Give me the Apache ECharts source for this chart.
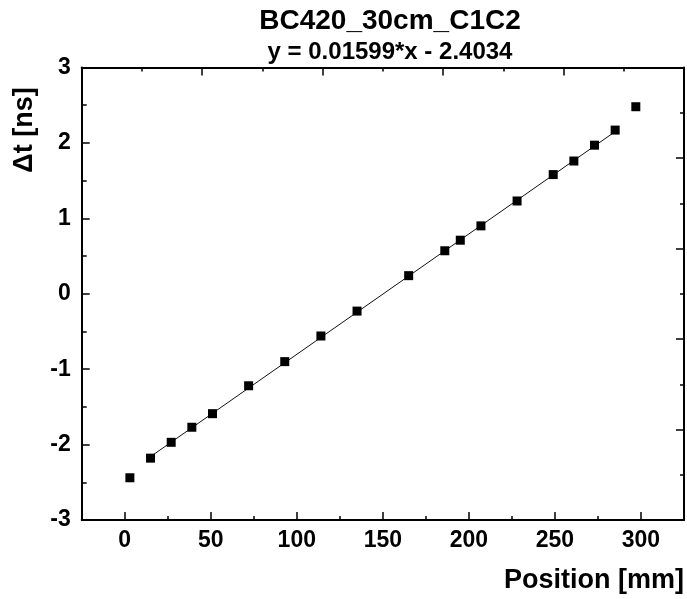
<!DOCTYPE html>
<html>
<head>
<meta charset="utf-8">
<script src="https://cdn.jsdelivr.net/npm/echarts@6/dist/echarts.min.js"></script>
<style>
html,body{margin:0;padding:0;background:#fff;}
#chart{width:687px;height:599px;}
</style>
</head>
<body>
<div id="chart"></div>
<script>
// Data
const positionMm = [3, 15, 27, 39, 51, 72, 93, 114, 135, 165, 186, 195, 207, 228, 249, 261, 273, 285, 297];
const deltaTns   = [-2.44, -2.18, -1.97, -1.77, -1.59, -1.22, -0.90, -0.56, -0.23, 0.24, 0.57, 0.71, 0.90, 1.23, 1.58, 1.76, 1.97, 2.17, 2.48];
// Fitted line end points (as drawn)
const fitX = [15, 285];
const fitY = [-2.16, 2.15];
const titleText = 'BC420_30cm_C1C2';
const fitText = 'y = 0.01599*x - 2.4034';
const xName = 'Position [mm]';
const yName = 'Δt [ns]';

const FONT = '"Liberation Sans", Arial, sans-serif';
const chart = echarts.init(document.getElementById('chart'), null, {renderer: 'canvas'});

const axisLineStyle = {color: '#000', width: 2};
const tickStyle = {color: '#000', width: 1.5};

chart.setOption({
  animation: false,
  backgroundColor: '#fff',
  title: [
    {text: titleText, left: 385, top: 2, textAlign: 'center',
     textStyle: {fontFamily: FONT, fontWeight: 'bold', fontSize: 28, color: '#000'}},
    {text: fitText, left: 385, top: 35, textAlign: 'center',
     textStyle: {fontFamily: FONT, fontWeight: 'bold', fontSize: 24, color: '#000'}}
  ],
  grid: {left: 81.7, right: -2.2, top: 67.5, bottom: 79, containLabel: false},
  xAxis: [
    {type: 'value', position: 'bottom', min: -25, max: 325, splitNumber: 7, minInterval: 50, maxInterval: 50,
     axisLine: {show: true, onZero: false, lineStyle: axisLineStyle},
     axisTick: {show: true, inside: true, length: 8, lineStyle: tickStyle},
     minorTick: {show: true, splitNumber: 2, length: 4, lineStyle: tickStyle},
     splitLine: {show: false},
     axisLabel: {margin: 9, fontFamily: FONT, fontWeight: 'bold', fontSize: 23, color: '#000',
       formatter: v => (Math.round(v) % 50 === 0 ? String(Math.round(v)) : '')}
    },
    {type: 'value', position: 'top', min: 0, max: 10, interval: 2,
     axisLine: {show: true, onZero: false, lineStyle: axisLineStyle},
     axisTick: {show: true, inside: true, length: 8, lineStyle: tickStyle},
     minorTick: {show: true, splitNumber: 2, length: 4, lineStyle: tickStyle},
     splitLine: {show: false}, axisLabel: {show: false}}
  ],
  yAxis: [
    {type: 'value', position: 'left', min: -3, max: 3, interval: 1,
     axisLine: {show: true, onZero: false, lineStyle: axisLineStyle},
     axisTick: {show: true, inside: true, length: 8, lineStyle: tickStyle},
     minorTick: {show: true, splitNumber: 2, length: 5, lineStyle: tickStyle},
     splitLine: {show: false},
     axisLabel: {margin: 11, fontFamily: FONT, fontWeight: 'bold', fontSize: 23, color: '#000'}
    },
    {type: 'value', position: 'right', min: 0, max: 10, interval: 2,
     axisLine: {show: true, onZero: false, lineStyle: axisLineStyle},
     axisTick: {show: true, inside: true, length: 8, lineStyle: tickStyle},
     minorTick: {show: true, splitNumber: 2, length: 4, lineStyle: tickStyle},
     splitLine: {show: false}, axisLabel: {show: false}}
  ],
  graphic: [
    {type: 'text', x: 25, y: 130, rotation: Math.PI / 2,
     style: {text: yName, fontFamily: FONT, fontWeight: 'bold', fontSize: 27, fill: '#000',
       textAlign: 'center', textVerticalAlign: 'middle'}},
    {type: 'text', x: 684, y: 581,
     style: {text: xName, fontFamily: FONT, fontWeight: 'bold', fontSize: 27, fill: '#000',
       textAlign: 'right', textVerticalAlign: 'middle'}}
  ],
  series: [
    {type: 'line', xAxisIndex: 0, yAxisIndex: 0, symbol: 'none', silent: true,
     lineStyle: {color: '#111', width: 1},
     data: fitX.map((x, i) => [x, fitY[i]]), z: 2},
    {type: 'scatter', xAxisIndex: 0, yAxisIndex: 0, symbol: 'rect', symbolSize: 9,
     itemStyle: {color: '#000', opacity: 1},
     data: positionMm.map((x, i) => [x, deltaTns[i]]), z: 3}
  ]
});
</script>
</body>
</html>
